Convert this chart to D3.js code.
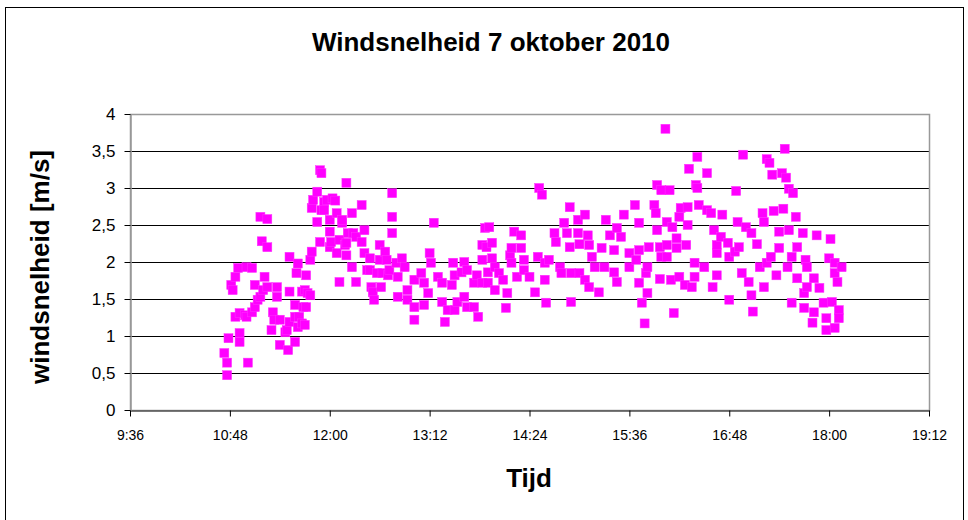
<!DOCTYPE html>
<html>
<head>
<meta charset="utf-8">
<script src="https://cdn.jsdelivr.net/npm/d3@7"></script>
<style>
  body { margin: 0; background: #fff; }
  svg { display: block; font-family: Arial, "Liberation Sans", sans-serif; }
</style>
</head>
<body>
<div class="container"></div>
<script>
// values (time of day, wind speed in m/s)
const tijden = [
  "10:44","10:46","10:46","10:47","10:49","10:50","10:52","10:52","10:54","10:55","10:55","10:55",
  "10:59","11:00","11:00","11:01","11:04","11:04","11:06","11:06","11:08","11:10","11:10","11:11",
  "11:12","11:13","11:15","11:15","11:15","11:18","11:19","11:20","11:22","11:22","11:24","11:24",
  "11:28","11:29","11:30","11:31","11:31","11:31","11:35","11:35","11:35","11:36","11:37","11:37",
  "11:38","11:40","11:40","11:41","11:42",
  "11:42","11:43","11:43","11:44","11:46","11:46","11:47","11:47","11:48","11:51","11:51","11:53",
  "11:53","11:54","11:54","11:56","11:56","11:58","12:00","12:00","12:00","12:01","12:02","12:04",
  "12:05","12:05","12:07","12:07","12:09","12:09","12:11","12:12","12:12","12:12","12:13","12:16",
  "12:16","12:17","12:19","12:19","12:23","12:23","12:25","12:25","12:27","12:29","12:29","12:30",
  "12:31","12:32","12:34","12:36","12:36","12:37","12:38","12:40","12:41","12:42","12:43","12:45",
  "12:45","12:45","12:49",
  "12:48","12:49","12:52","12:54","12:56","12:56","13:01","13:01","13:01","13:06","13:08","13:08",
  "13:11","13:12","13:13","13:15","13:18","13:21","13:21","13:23","13:25","13:28","13:29","13:30",
  "13:30","13:32","13:35","13:37","13:37","13:39","13:39","13:44","13:44","13:46","13:47","13:50",
  "13:50","13:50","13:52",
  "13:53","13:54","13:54","13:55","13:57","13:57","13:59","13:59","14:02","14:05","14:07","14:08",
  "14:10","14:11","14:11","14:13","14:15","14:18","14:18","14:20","14:20","14:24","14:28","14:30",
  "14:31","14:33","14:35","14:35","14:36","14:38","14:42","14:43","14:46","14:47","14:49","14:51",
  "14:53","14:53","14:54","14:54",
  "14:59","14:59","15:00","15:00","15:04","15:04","15:06","15:07","15:07","15:09","15:11","15:14",
  "15:16","15:18","15:19","15:22","15:25","15:25","15:27","15:27","15:30","15:32","15:36","15:36",
  "15:40","15:41","15:43","15:43","15:43","15:45","15:47","15:48","15:49","15:49","15:50","15:54",
  "15:55","15:56","15:56","15:58","15:58","15:59","15:59","16:02",
  "16:03","16:03","16:03","16:05","16:06","16:07","16:08","16:10","16:10","16:12","16:12","16:13",
  "16:16","16:17","16:18","16:18","16:19","16:21","16:23","16:23","16:24","16:25","16:25","16:26",
  "16:30","16:32","16:32","16:35","16:36","16:37","16:39","16:39","16:39","16:42","16:43","16:47",
  "16:48","16:48","16:52","16:53","16:54","16:55","16:57","16:58","17:00","17:02","17:04","17:04",
  "17:05",
  "17:08","17:10","17:12","17:13","17:13","17:15","17:15","17:17","17:18","17:19","17:20","17:22",
  "17:24","17:24","17:26","17:27","17:28","17:29","17:30","17:31","17:31","17:33","17:33","17:34",
  "17:36","17:37","17:37","17:41","17:42","17:42","17:43","17:44","17:44","17:48","17:49","17:49",
  "17:51","17:53","17:56","17:58","17:58","18:00","18:01","18:02","18:04","18:04","18:04","18:06",
  "18:07","18:07","18:09"
];

const windsnelheid = [
  0.77,0.64,0.47,0.97,1.69,1.62,1.80,1.26,1.92,1.04,0.92,1.31,
  1.28,1.93,1.26,0.64,1.92,1.32,1.69,1.39,1.49,2.61,1.53,2.28,
  1.62,1.80,2.58,2.20,1.66,1.08,1.32,1.22,1.66,1.53,0.88,1.22,
  1.05,1.08,0.81,2.07,1.60,1.19,1.42,1.26,0.92,1.85,1.12,1.98,
  1.26,1.60,1.17,1.39,1.62,
  1.15,1.82,1.39,1.58,1.55,2.03,2.73,2.14,2.84,2.95,2.54,3.24,
  2.27,3.20,2.70,2.81,2.70,2.84,2.57,2.41,2.20,2.27,2.86,2.83,
  2.66,2.12,1.73,2.30,2.53,2.57,2.23,3.07,2.26,2.09,2.39,2.66,
  1.93,2.39,2.34,1.73,2.77,2.27,2.43,2.12,1.89,2.05,1.89,1.66,
  1.59,1.49,1.85,2.23,2.03,1.66,1.85,2.14,2.03,1.82,1.89,2.93,
  2.61,2.39,1.53,
  1.99,1.80,2.05,1.93,1.62,1.49,1.76,1.39,1.22,1.85,1.72,1.42,
  1.58,2.12,1.99,2.53,1.80,1.72,1.46,1.19,1.35,1.69,1.99,1.82,
  1.35,1.46,1.86,2.00,1.53,1.39,1.89,1.72,1.39,1.82,1.26,2.23,
  2.03,1.72,2.46,
  2.20,1.86,1.72,2.47,2.26,2.05,1.93,1.62,1.85,1.76,1.38,1.58,
  2.09,2.19,1.99,2.41,1.80,2.36,2.19,2.03,1.89,1.80,1.59,2.07,
  3.00,2.91,1.99,1.76,1.45,2.03,2.39,2.27,1.93,1.85,2.53,2.39,
  2.74,2.20,1.46,1.85,
  2.57,2.39,2.24,1.85,2.64,1.76,2.36,2.23,1.66,2.07,1.93,1.59,
  2.19,1.93,2.57,2.36,2.16,1.86,1.73,2.46,2.34,2.64,2.12,1.93,
  2.77,2.03,2.53,2.16,1.72,1.45,1.17,1.85,1.93,1.58,2.20,2.77,
  2.66,3.04,2.43,2.20,1.77,2.97,2.07,3.80,
  2.23,2.07,2.54,2.97,1.76,2.47,1.31,2.32,2.19,2.61,1.80,2.73,
  1.69,2.23,2.74,2.50,3.26,1.66,1.99,1.80,3.04,3.42,3.00,2.77,
  1.93,3.20,2.70,2.66,1.66,2.43,2.12,1.82,2.23,2.34,2.64,2.26,
  2.07,1.49,2.14,2.96,2.54,2.20,1.85,3.45,2.47,1.73,2.39,1.55,
  1.33,
  2.24,1.93,2.66,2.54,1.66,1.99,3.39,3.34,2.07,3.18,2.69,1.82,
  2.41,2.19,3.20,2.72,3.53,3.14,1.93,2.99,2.43,2.07,1.45,2.93,
  2.61,2.20,1.78,2.39,1.58,1.38,2.03,1.93,1.66,1.18,1.78,1.32,
  2.36,1.65,1.45,1.24,1.08,2.05,2.31,1.46,1.99,1.85,1.11,1.73,
  1.35,1.24,1.93
];

// axis ticks
const tijdTicks = ["9:36","10:48","12:00","13:12","14:24","15:36","16:48","18:00","19:12"];
const snelheidTicks = [0, 0.5, 1, 1.5, 2, 2.5, 3, 3.5, 4];

const width = 968;
const height = 520;
const plot = { left: 130, right: 929, top: 114, bottom: 410 };

const toMinutes = s => {
  const [h, m] = s.split(":").map(Number);
  return h * 60 + m;
};

const data = tijden.map((t, i) => ({ t: toMinutes(t), v: windsnelheid[i] }));

const svg = d3.select(".container")
  .append("svg")
  .attr("width", width)
  .attr("height", height);

svg.append("rect")
  .attr("width", width).attr("height", height)
  .attr("fill", "#fff");

// outer chart frame
svg.append("rect")
  .attr("x", 5.5).attr("y", 7.5)
  .attr("width", 958).attr("height", 530)
  .attr("fill", "none")
  .attr("stroke", "#000")
  .attr("stroke-width", 1);

const x = d3.scaleLinear()
  .domain([toMinutes(tijdTicks[0]), toMinutes(tijdTicks[tijdTicks.length - 1])])
  .range([plot.left, plot.right]);

const y = d3.scaleLinear()
  .domain([0, 4])
  .range([plot.bottom, plot.top]);

// gridlines
svg.append("g")
  .selectAll("line")
  .data(snelheidTicks.filter(d => d > 0 && d < 4))
  .enter()
  .append("line")
  .attr("x1", plot.left).attr("x2", plot.right)
  .attr("y1", d => Math.round(y(d)) + 0.5)
  .attr("y2", d => Math.round(y(d)) + 0.5)
  .attr("stroke", "#000");

// plot area border (top/right grey)
svg.append("rect")
  .attr("x", plot.left + 0.5).attr("y", plot.top + 0.5)
  .attr("width", plot.right - plot.left).attr("height", plot.bottom - plot.top)
  .attr("fill", "none")
  .attr("stroke", "#999")
  .attr("stroke-width", 1.5);

// x axis
const xAxis = d3.axisBottom(x)
  .tickValues(tijdTicks.map(toMinutes))
  .tickSize(6)
  .tickSizeOuter(0)
  .tickPadding(14)
  .tickFormat(d => Math.floor(d / 60) + ":" + String(d % 60).padStart(2, "0"));

const gx = svg.append("g")
  .attr("transform", `translate(0,${plot.bottom + 0.5})`)
  .call(xAxis);
gx.select(".domain").attr("stroke", "#555").attr("stroke-width", 1.5);
gx.selectAll(".tick line").attr("stroke", "#000");
gx.selectAll("text")
  .attr("font-size", 14)
  .attr("font-family", "Arial, 'Liberation Sans', sans-serif")
  .attr("fill", "#000");

// y axis
const yAxis = d3.axisLeft(y)
  .tickValues(snelheidTicks)
  .tickSize(6)
  .tickSizeOuter(0)
  .tickPadding(9)
  .tickFormat(d => String(d).replace(".", ","));

const gy = svg.append("g")
  .attr("transform", `translate(${plot.left + 0.5},0)`)
  .call(yAxis);
gy.select(".domain").attr("stroke", "#999").attr("stroke-width", 1.5);
gy.selectAll(".tick line").attr("stroke", "#000");
gy.selectAll("text")
  .attr("font-size", 17)
  .attr("font-family", "Arial, 'Liberation Sans', sans-serif")
  .attr("fill", "#000");

// markers
const size = 9;
svg.append("g")
  .selectAll("rect")
  .data(data)
  .enter()
  .append("rect")
  .attr("x", d => x(d.t) - size / 2)
  .attr("y", d => y(d.v) - size / 2)
  .attr("width", size)
  .attr("height", size)
  .attr("fill", "#ff00ff")
  .attr("stroke", "#ff33ff")
  .attr("stroke-width", 0.5);

// titles
svg.append("text")
  .attr("x", 491).attr("y", 51)
  .attr("text-anchor", "middle")
  .attr("font-size", 26)
  .attr("font-weight", "bold")
  .text("Windsnelheid 7 oktober 2010");

svg.append("text")
  .attr("x", 529).attr("y", 487)
  .attr("text-anchor", "middle")
  .attr("font-size", 26)
  .attr("font-weight", "bold")
  .text("Tijd");

svg.append("text")
  .attr("transform", "translate(49,267) rotate(-90)")
  .attr("text-anchor", "middle")
  .attr("font-size", 26)
  .attr("font-weight", "bold")
  .text("windsnelheid [m/s]");
</script>
</body>
</html>
